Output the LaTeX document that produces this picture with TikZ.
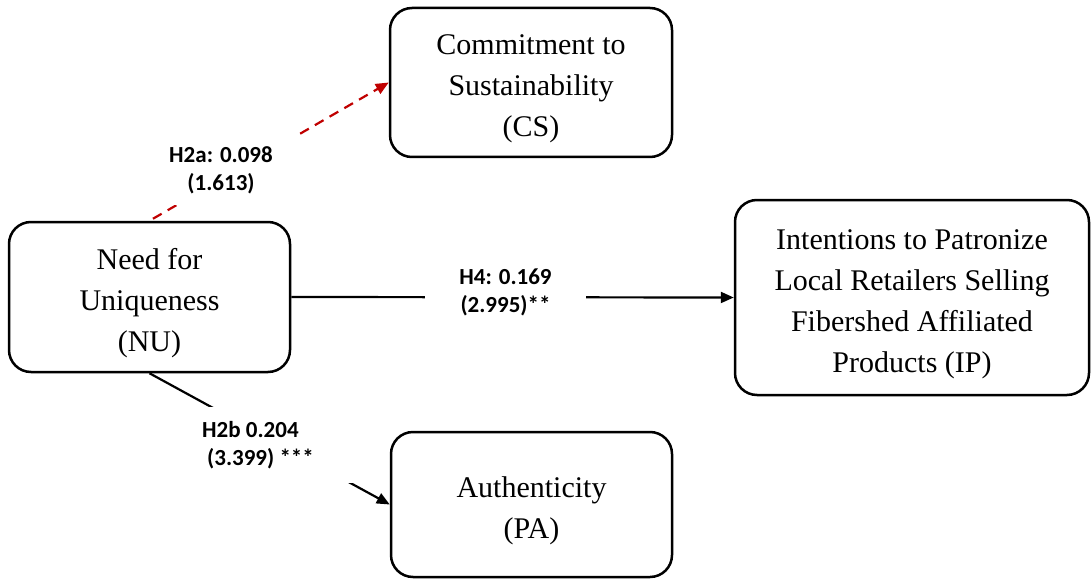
\documentclass[tikz,border=0pt]{standalone}
\usepackage{fontspec}
\setmainfont{Liberation Serif}
\newfontfamily\lblfont{Carlito}
\usetikzlibrary{arrows.meta}
\definecolor{dashred}{RGB}{192,0,0}
% extra room above the first line of each construct box
\newcommand{\topgap}{\rule{0pt}{33pt}}
\begin{document}
\begin{tikzpicture}[x=1pt,y=-1pt,
  construct/.style={draw, line width=2.5pt, rounded corners=22pt, align=center,
    font=\fontsize{30}{41}\selectfont, inner sep=0pt},
  pathlbl/.style={fill=white, inner sep=0pt, align=center,
    font=\lblfont\bfseries\fontsize{23}{28}\selectfont},
  link/.style={line width=2.2pt, -{Triangle[length=13pt,width=11pt]}},
  weak/.style={link, dashred, dash pattern=on 10pt off 7pt}]
\useasboundingbox (0,0) rectangle (1091,580);

% constructs
\node[construct, minimum width=282pt, minimum height=149pt] (cs) at (531,82.5)
  {\topgap Commitment to\\Sustainability\\(CS)};
\node[construct, minimum width=281pt, minimum height=150pt] (nu) at (149.5,297)
  {\topgap Need for\\Uniqueness\\(NU)};
\node[construct, minimum width=354pt, minimum height=195pt] (ip) at (912,297.5)
  {\topgap Intentions to Patronize\\Local Retailers Selling\\Fibershed Affiliated\\Products (IP)};
\node[construct, minimum width=281pt, minimum height=145pt] (pa) at (531.5,504.5)
  {\topgap Authenticity\\(PA)};

% structural paths
\draw[weak, shorten <=4pt] (nu.north) -- (cs.west);
\draw[link] (nu.east) -- (ip.west);
\draw[link] (nu.south) -- (pa.west);

% path coefficients (t-values)
\node[pathlbl, minimum width=150pt, minimum height=69pt] (h2a) at (221,170.5)
  {H2a: 0.098\\(1.613)};
\node[pathlbl, minimum width=161pt, minimum height=50pt] (h4) at (505.5,292)
  {H4: 0.169\\(2.995)**};
\node[pathlbl, align=left, minimum width=190pt, minimum height=76pt] (h2b) at (258,445)
  {H2b 0.204\\\hspace*{5pt}(3.399) ***};
\end{tikzpicture}
\end{document}
